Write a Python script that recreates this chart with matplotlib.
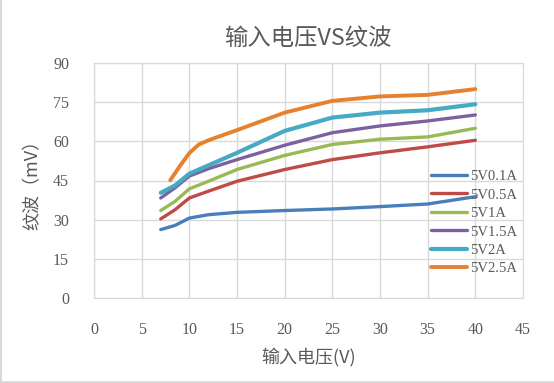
import matplotlib
matplotlib.use("Agg")
import matplotlib.pyplot as plt
from matplotlib.lines import Line2D

plt.rcParams['font.family'] = ['Noto Sans CJK SC', 'DejaVu Sans']

# input voltage (V) and ripple (mV)
x_main = [7, 8.5, 10, 12, 15, 20, 25, 30, 35, 40]
x_25a = [8, 9, 10, 11, 12, 15, 20, 25, 30, 35, 40]

ripple_01a = [26.2, 27.8, 30.6, 31.9, 32.8, 33.5, 34.1, 35.0, 36.0, 38.8]
ripple_05a = [30.3, 33.8, 38.3, 40.9, 44.7, 49.2, 53.0, 55.6, 57.9, 60.4]
ripple_1a = [33.5, 37.0, 41.8, 44.7, 49.2, 54.6, 58.8, 60.8, 61.7, 65.0]
ripple_15a = [38.3, 42.2, 46.7, 49.5, 53.0, 58.5, 63.3, 65.9, 67.8, 70.1]
ripple_2a = [40.3, 43.1, 47.6, 50.8, 55.6, 64.0, 69.1, 71.0, 71.9, 74.2]
ripple_25a = [45.1, 50.5, 55.5, 58.8, 60.4, 64.3, 71.0, 75.5, 77.2, 77.8, 80.0]

labels = ["5V0.1A", "5V0.5A", "5V1A", "5V1.5A", "5V2A", "5V2.5A"]
colors = ["#4a7ebb", "#be4b48", "#98b954", "#7d60a0", "#46aac5", "#e6812f"]
widths = [2.4, 2.4, 2.4, 2.4, 3.0, 2.8]

x_ticks = list(range(0, 50, 5))
y_ticks = list(range(0, 105, 15))

series = [
    (x_main, ripple_01a),
    (x_main, ripple_05a),
    (x_main, ripple_1a),
    (x_main, ripple_15a),
    (x_main, ripple_2a),
    (x_25a, ripple_25a),
]

fig = plt.figure(figsize=(5.54, 3.83), dpi=100)
ax = fig.add_axes([94 / 554, 1 - 298 / 383, 429 / 554, 235 / 383])

for (xs, ys), lab, col, lw in zip(series, labels, colors, widths):
    ax.plot(xs, ys, color=col, lw=lw, label=lab,
            solid_joinstyle="round", solid_capstyle="round")

ax.set_xlim(0, 45)
ax.set_ylim(0, 90)
ax.set_xticks(x_ticks)
ax.set_yticks(y_ticks)
ax.grid(True, color="#d9d9d9", lw=1)
ax.set_axisbelow(True)
for sp in ax.spines.values():
    sp.set_color("#d9d9d9")
ax.tick_params(length=0, colors="#595959")
ax.tick_params(axis="x", pad=17)
ax.tick_params(axis="y", pad=18)
for t in ax.get_xticklabels() + ax.get_yticklabels():
    t.set_fontfamily("Liberation Serif")
    t.set_fontsize(11.5)

ax.set_title("输入电压VS纹波", fontsize=16.8, color="#595959", pad=13)
ax.set_xlabel("输入电压(V)", fontsize=13, color="#595959", labelpad=8)
ax.set_ylabel("纹波（mV）", fontsize=13, color="#595959", labelpad=8)

leg = ax.legend(loc="upper left", bbox_to_anchor=(0.7855, 0.545), frameon=False,
                borderpad=0, borderaxespad=0, handlelength=2.5, handletextpad=0.2,
                labelspacing=0.36, prop={"family": "Liberation Serif", "size": 10.5})
for t in leg.get_texts():
    t.set_color("#595959")

# thin screenshot border on left and bottom
fig.add_artist(Line2D([0.002, 0.002], [0, 1], color="#d9d9d9", lw=1.5, transform=fig.transFigure))
fig.add_artist(Line2D([0, 1], [0.003, 0.003], color="#d9d9d9", lw=2, transform=fig.transFigure))

fig.savefig("out.png", dpi=100)
